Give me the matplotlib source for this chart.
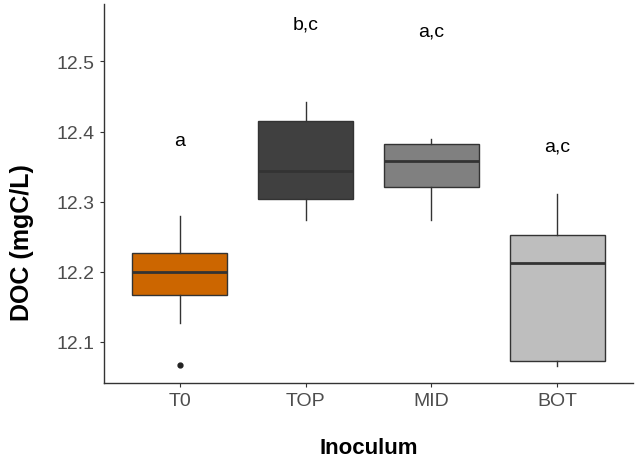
import matplotlib
matplotlib.use('Agg')
import matplotlib.pyplot as plt

# box statistics
inoculum = ['T0', 'TOP', 'MID', 'BOT']
whisker_low = [12.127, 12.274, 12.274, 12.065]
q1 = [12.166, 12.304, 12.321, 12.072]
median = [12.199, 12.344, 12.358, 12.213]
q3 = [12.226, 12.415, 12.382, 12.252]
whisker_high = [12.280, 12.442, 12.390, 12.311]
outliers = [[12.067], [], [], []]
box_colors = ['#CC6600', '#404040', '#808080', '#BEBEBE']

# significance letters
letters = ['a', 'b,c', 'a,c', 'a,c']
letter_y = [12.387, 12.554, 12.543, 12.380]

plt.rcParams['font.family'] = ['Liberation Sans', 'DejaVu Sans']

fig = plt.figure(figsize=(6.44, 4.6), dpi=100)
ax = fig.add_axes([0.1615, 0.1652, 0.8214, 0.8238])

stats = []
for i in range(len(inoculum)):
    stats.append({'whislo': whisker_low[i], 'q1': q1[i], 'med': median[i],
                  'q3': q3[i], 'whishi': whisker_high[i], 'fliers': outliers[i]})

positions = list(range(1, len(inoculum) + 1))
bp = ax.bxp(stats, positions=positions, widths=0.75, patch_artist=True,
            showcaps=False,
            boxprops=dict(edgecolor='#333333', linewidth=1.0),
            medianprops=dict(color='#333333', linewidth=2.0),
            whiskerprops=dict(color='#333333', linewidth=1.0),
            flierprops=dict(marker='o', markerfacecolor='#222222',
                            markeredgecolor='#222222', markersize=3.5))
for patch, c in zip(bp['boxes'], box_colors):
    patch.set_facecolor(c)

for pos, lab, y in zip(positions, letters, letter_y):
    ax.text(pos, y, lab, ha='center', va='center', fontsize=14, color='black')

ax.set_xlim(0.4, 4.6)
ax.set_ylim(12.041, 12.582)
ax.set_yticks([12.1, 12.2, 12.3, 12.4, 12.5])
ax.set_xticks(positions)
ax.set_xticklabels(inoculum)

ax.spines['top'].set_visible(False)
ax.spines['right'].set_visible(False)
for s in ['left', 'bottom']:
    ax.spines[s].set_color('#333333')
    ax.spines[s].set_linewidth(1.0)
ax.tick_params(axis='both', colors='#333333', labelcolor='#4D4D4D',
               labelsize=14, length=3, width=0.8)

ax.set_xlabel('Inoculum', fontsize=16, fontweight='bold')
ax.set_ylabel('DOC (mgC/L)', fontsize=18, fontweight='bold')
ax.xaxis.set_label_coords(0.5, -0.171)
ax.yaxis.set_label_coords(-0.155, 0.373)
ax.xaxis.label.set_va('center')
ax.yaxis.label.set_va('center')

fig.savefig('out.png', dpi=100, facecolor='white')
